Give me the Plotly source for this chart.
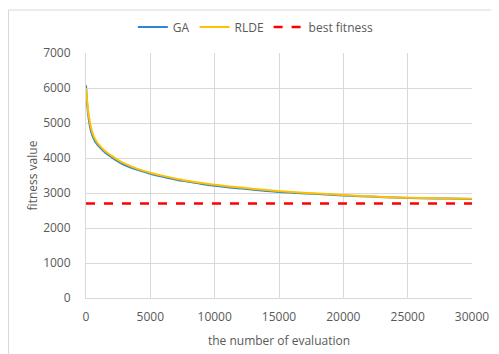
import plotly.graph_objects as go

evals = [0, 100, 200, 400, 600, 800, 1000, 1500, 2000, 2500, 3000, 4000, 5000, 6000, 7000,
         8000, 9000, 10000, 12000, 14000, 16000, 18000, 20000, 22000, 24000, 26000, 28000, 30000]
ga = [6080, 5500, 5150, 4750, 4550, 4420, 4330, 4150, 4020, 3900, 3800, 3660, 3550, 3460, 3380,
      3320, 3260, 3210, 3130, 3060, 3010, 2970, 2930, 2900, 2870, 2850, 2840, 2830]
rlde = [6000, 5600, 5250, 4850, 4620, 4480, 4380, 4190, 4060, 3940, 3840, 3690, 3580, 3490, 3410,
        3345, 3285, 3235, 3155, 3085, 3030, 2985, 2945, 2905, 2875, 2855, 2845, 2835]
best_x = [0, 30000]
best_fitness = [2700, 2700]

font_family = "Open Sans, Liberation Sans, sans-serif"
gray = "#595959"

fig = go.Figure()
fig.add_trace(go.Scatter(x=evals, y=ga, mode="lines", name="GA",
                         line=dict(color="#2E86D1", width=2, shape="spline")))
fig.add_trace(go.Scatter(x=evals, y=rlde, mode="lines", name="RLDE",
                         line=dict(color="#FFC000", width=2, shape="spline")))
fig.add_trace(go.Scatter(x=best_x, y=best_fitness, mode="lines", name="best fitness",
                         line=dict(color="#FF0000", width=2.5, dash="dash")))

fig.update_layout(
    width=491, height=346,
    margin=dict(l=78, r=27, t=45, b=56, autoexpand=False),
    paper_bgcolor="white", plot_bgcolor="white",
    font=dict(family=font_family, size=12, color=gray),
    legend=dict(orientation="h", x=0.44, xanchor="center", y=1.106, yanchor="middle",
                font=dict(size=12, color=gray), itemwidth=30, bgcolor="rgba(0,0,0,0)"),
    xaxis=dict(range=[0, 30000], tickvals=[0, 5000, 10000, 15000, 20000, 25000, 30000],
               showgrid=True, gridcolor="#D9D9D9", gridwidth=1, zeroline=False,
               showline=True, linecolor="#D9D9D9", ticks="", tickformat="d",
               ticklabelstandoff=8, automargin=False,
               title=dict(text="the number of evaluation", standoff=12,
                          font=dict(size=12, color=gray))),
    yaxis=dict(range=[0, 7000], tickvals=[0, 1000, 2000, 3000, 4000, 5000, 6000, 7000],
               showgrid=True, gridcolor="#D9D9D9", gridwidth=1, zeroline=False,
               showline=True, linecolor="#D9D9D9", ticks="", tickformat="d",
               ticklabelstandoff=12, automargin=False,
               title=dict(text="fitness value", standoff=2,
                          font=dict(size=12, color=gray))),
    shapes=[dict(type="rect", xref="paper", yref="paper",
                 x0=-0.2008, x1=1.2, y0=-0.3, y1=1.1755,
                 line=dict(color="#D9D9D9", width=1), fillcolor="rgba(0,0,0,0)", layer="below")],
)

fig.write_html("out.html")
